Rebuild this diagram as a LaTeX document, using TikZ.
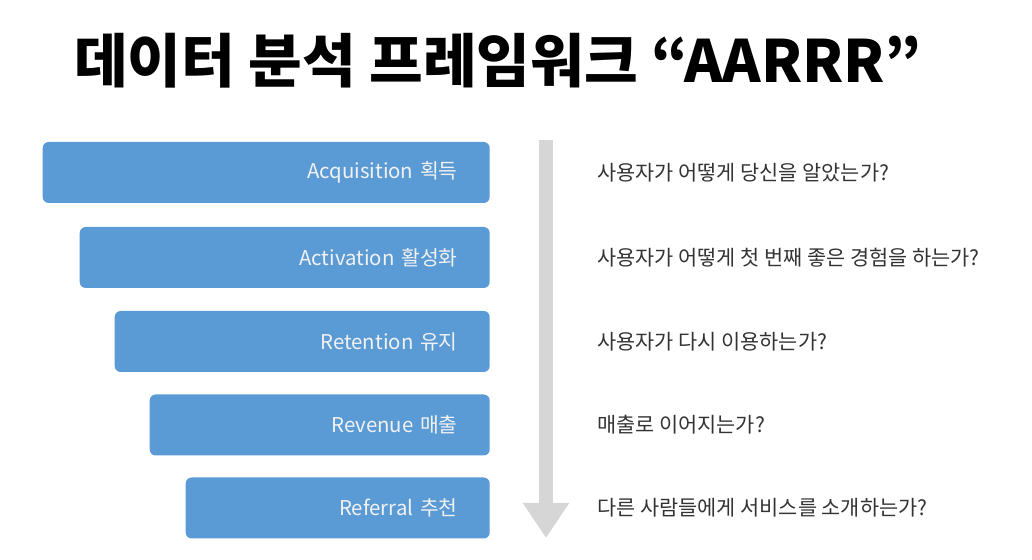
\documentclass[tikz,border=0pt]{standalone}
\usepackage{fontspec}
\setmainfont{Noto Sans CJK KR}
\usetikzlibrary{arrows.meta,positioning}
\definecolor{stageblue}{HTML}{5B9BD5}
\definecolor{flowgray}{HTML}{D6D6D6}
\definecolor{asktext}{HTML}{333333}
\begin{document}
\begin{tikzpicture}
        % Stijlen
        \tikzstyle{stage} = [rectangle, rounded corners=0.15cm, minimum height=1.525cm, inner xsep=0.8cm, align=right, anchor=east, fill=stageblue, text=white!95!black, font=\fontsize{14.5}{16}\selectfont]
        \tikzstyle{question} = [inner xsep=0pt, text=asktext, font=\fontsize{14.8}{17}\selectfont]
        \tikzstyle{flow} = [line width=0.35cm, draw=flowgray, -{Triangle[width=1.1cm, length=0.875cm]}]

        \useasboundingbox (0,0) rectangle (25.8,14);

        % Titel
        \node (title) at (12.45,12.48) {\fontsize{41.5}{46}\selectfont\bfseries 데이터 분석 프레임워크 “AARRR”};

        % Fases
        \node (acq) [stage, text width=9.575cm] at (12.25,9.6875) {Acquisition 획득};
        \node (act) [stage, text width=8.65cm] at (12.25,7.5625) {Activation 활성화};
        \node (ret) [stage, text width=7.775cm] at (12.25,5.4625) {Retention 유지};
        \node (rev) [stage, text width=6.9cm] at (12.25,3.375) {Revenue 매출};
        \node (ref) [stage, text width=6cm] at (12.25,1.3) {Referral 추천};

        % Vragen
        \node (qacq) [question, right=2.675cm of acq] {사용자가 어떻게 당신을 알았는가?};
        \node (qact) [question, right=2.675cm of act] {사용자가 어떻게 첫 번째 좋은 경험을 하는가?};
        \node (qret) [question, right=2.675cm of ret] {사용자가 다시 이용하는가?};
        \node (qrev) [question, right=2.675cm of rev] {매출로 이어지는가?};
        \node (qref) [question, right=2.675cm of ref] {다른 사람들에게 서비스를 소개하는가?};

        % Pijl
        \coordinate (flowtop) at (13.65,10.5);
        \coordinate (flowend) at (13.65,0.55);
        \draw [flow] (flowtop) -- (flowend);

    \end{tikzpicture}
\end{document}
